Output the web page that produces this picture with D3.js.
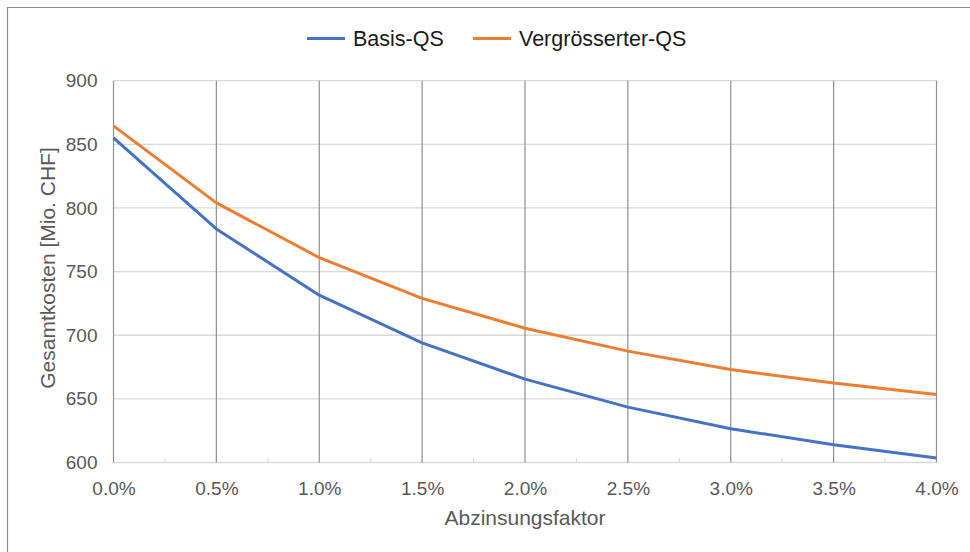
<!DOCTYPE html>
<html><head><meta charset="utf-8">
<script src="https://cdn.jsdelivr.net/npm/d3@7"></script>
<style>body{margin:0;background:#fff;} svg{display:block;font-family:"Liberation Sans",Arial,sans-serif;}</style>
</head><body>
<svg id="c" width="970" height="552"></svg>
<script>
const xValues = [0.0, 0.5, 1.0, 1.5, 2.0, 2.5, 3.0, 3.5, 4.0];
const basisQS = [855, 783.5, 731.5, 694, 665.5, 643.5, 626.5, 614, 603.5];
const vergQS = [864.5, 804, 761, 729, 705.5, 687.5, 673, 662.5, 653.5];
const seriesNames = ["Basis-QS", "Vergrösserter-QS"];
const seriesColors = ["#4472C4", "#ED7D31"];
const yTicks = [600, 650, 700, 750, 800, 850, 900];
const xTicks = [0.0, 0.5, 1.0, 1.5, 2.0, 2.5, 3.0, 3.5, 4.0];
const xMinor = [0.25, 0.75, 1.25, 1.75, 2.25, 2.75, 3.25, 3.75];

const svg = d3.select("#c");
const L = 113.5, R = 936.5, T = 80.7, B = 462.5;
const x = d3.scaleLinear().domain([0, 4]).range([L, R]);
const y = d3.scaleLinear().domain([600, 900]).range([B, T]);
const FF = '"Liberation Sans",Arial,sans-serif';

// outer border
svg.append("path").attr("d", `M7.5,552 L7.5,7.5 L970,7.5`).attr("fill", "none").attr("stroke", "#8c8c8c").attr("stroke-width", 1.2);

// horizontal gridlines
svg.append("g").selectAll("line").data(yTicks).join("line")
  .attr("x1", L).attr("x2", R).attr("y1", d => y(d)).attr("y2", d => y(d))
  .attr("stroke", "#d9d9d9").attr("stroke-width", 1.3);

// vertical gridlines
svg.append("g").selectAll("line").data(xTicks).join("line")
  .attr("x1", d => x(d)).attr("x2", d => x(d)).attr("y1", T).attr("y2", B)
  .attr("stroke", "#8f8f8f").attr("stroke-width", 1.2);

// minor ticks
svg.append("g").selectAll("line").data(xMinor).join("line")
  .attr("x1", d => x(d)).attr("x2", d => x(d)).attr("y1", B - 4).attr("y2", B)
  .attr("stroke", "#d9d9d9").attr("stroke-width", 1.2);

// y axis labels
const yAxis = d3.axisLeft(y).tickValues(yTicks).tickSize(0).tickPadding(16).tickFormat(d3.format("d"));
const gy = svg.append("g").attr("transform", `translate(${L},0)`).call(yAxis);
gy.select(".domain").remove();
gy.selectAll("text").attr("fill", "#595959").style("font-size", "19px").style("font-family", FF);

// x axis labels
const xAxis = d3.axisBottom(x).tickValues(xTicks).tickSize(0).tickPadding(19).tickFormat(d => d.toFixed(1) + "%");
const gx = svg.append("g").attr("transform", `translate(0,${B})`).call(xAxis);
gx.select(".domain").remove();
gx.selectAll("text").attr("fill", "#595959").style("font-size", "19px").style("font-family", FF);

// lines
const line = d3.line().x((d, i) => x(xValues[i])).y(d => y(d));
[basisQS, vergQS].forEach((s, k) => {
  svg.append("path").datum(s).attr("d", line).attr("fill", "none")
    .attr("stroke", seriesColors[k]).attr("stroke-width", 3).attr("stroke-linejoin", "round");
});

// axis titles
svg.append("text").attr("x", 525).attr("y", 525).attr("text-anchor", "middle")
  .attr("fill", "#595959").style("font-size", "21px").text("Abzinsungsfaktor");
svg.append("text").attr("transform", `translate(55,268) rotate(-90)`).attr("text-anchor", "middle")
  .attr("fill", "#595959").style("font-size", "21px").text("Gesamtkosten [Mio. CHF]");

// legend
const legX = [307, 473];
seriesNames.forEach((n, k) => {
  svg.append("line").attr("x1", legX[k]).attr("x2", legX[k] + 38).attr("y1", 38.5).attr("y2", 38.5)
    .attr("stroke", seriesColors[k]).attr("stroke-width", 3);
  svg.append("text").attr("x", legX[k] + 46).attr("y", 46).attr("fill", "#1a1a1a")
    .style("font-size", "21.5px").text(n);
});
</script>
</body></html>
